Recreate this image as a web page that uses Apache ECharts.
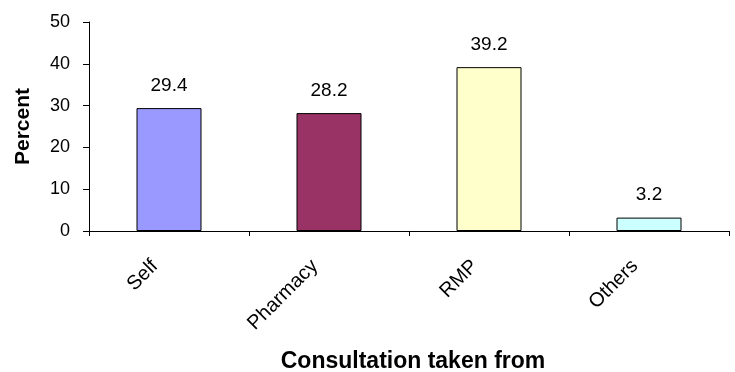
<!DOCTYPE html>
<html>
<head>
<meta charset="utf-8">
<script src="https://cdn.jsdelivr.net/npm/echarts@6/dist/echarts.min.js"></script>
<style>
  html, body { margin: 0; padding: 0; background: #fff; }
  #chart { width: 735px; height: 372px; }
</style>
</head>
<body>
<div id="chart"></div>
<script>
// Where respondents sought consultation (percent of respondents)
const categories = ['Self', 'Pharmacy', 'RMP', 'Others'];
const percentValues = [29.4, 28.2, 39.2, 3.2];
const barColors = ['#9999FF', '#993366', '#FFFFCC', '#CCFFFF'];
const yTicks = { min: 0, max: 50, interval: 10 };

const FONT = '"Liberation Sans", Arial, sans-serif';

const chart = echarts.init(document.getElementById('chart'), null, { renderer: 'canvas' });

chart.setOption({
  animation: false,
  backgroundColor: '#ffffff',
  grid: { left: 89, right: 6, top: 22, bottom: 141, containLabel: false, outerBoundsMode: 'none' },
  xAxis: {
    type: 'category',
    data: categories,
    boundaryGap: true,
    name: 'Consultation taken from',
    nameLocation: 'middle',
    nameGap: 119,
    nameTextStyle: { fontFamily: FONT, fontSize: 23, fontWeight: 'bold', color: '#000', padding: [0, 0, 0, 8] },
    axisLine: { show: true, lineStyle: { color: '#000', width: 1 } },
    axisTick: { show: true, alignWithLabel: false, length: 5, lineStyle: { color: '#000' } },
    axisLabel: {
      rotate: 45,
      interval: 0,
      margin: 18,
      padding: [0, 20, 0, 0],
      fontFamily: FONT,
      fontSize: 20,
      color: '#000'
    },
    splitLine: { show: false }
  },
  yAxis: {
    type: 'value',
    min: yTicks.min,
    max: yTicks.max,
    interval: yTicks.interval,
    name: 'Percent',
    nameLocation: 'middle',
    nameGap: 55,
    nameRotate: 90,
    nameTextStyle: { fontFamily: FONT, fontSize: 21, fontWeight: 'bold', color: '#000' },
    axisLine: { show: true, lineStyle: { color: '#000', width: 1 } },
    axisTick: { show: true, length: 6, lineStyle: { color: '#000' } },
    axisLabel: { margin: 19, fontFamily: FONT, fontSize: 18, color: '#000' },
    splitLine: { show: false }
  },
  series: [{
    type: 'bar',
    barWidth: 65,
    data: percentValues.map((v, i) => ({
      value: v,
      itemStyle: { color: barColors[i], borderColor: '#000', borderWidth: 1 }
    })),
    label: {
      show: true,
      position: 'top',
      distance: 13,
      fontFamily: FONT,
      fontSize: 19,
      color: '#000',
      formatter: p => p.value.toFixed(1)
    }
  }]
});
</script>
</body>
</html>
